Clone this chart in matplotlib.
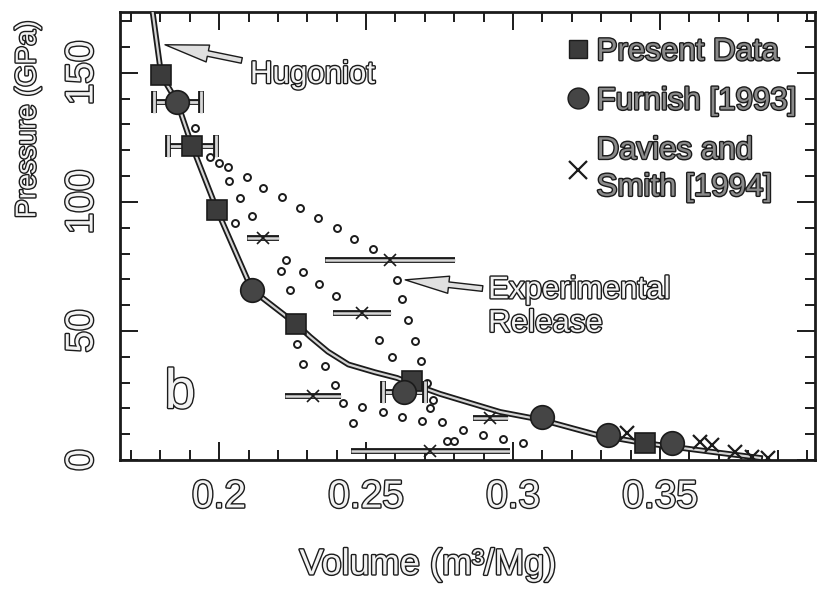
import matplotlib
matplotlib.use("Agg")
import matplotlib.pyplot as plt
import matplotlib.patheffects as pe
from matplotlib.lines import Line2D
from matplotlib.ticker import MultipleLocator

# Hugoniot curve (volume m^3/Mg, pressure GPa)
hug_v = [0.1771, 0.1803, 0.1857, 0.1908, 0.1993, 0.2112, 0.2262, 0.2310, 0.2370, 0.2440,
         0.2530, 0.2605, 0.2656, 0.2752, 0.2956, 0.3099, 0.3286, 0.3422, 0.3524, 0.3680, 0.3840]
hug_p = [176.0, 149.2, 138.8, 121.7, 96.9, 65.9, 52.7, 47.7, 42.0, 37.0,
         34.0, 31.8, 29.5, 25.6, 18.6, 15.5, 9.7, 7.0, 5.4, 3.1, 0.8]

# present data (squares)
pres_v = [0.1803, 0.1908, 0.1993, 0.2262, 0.2656, 0.3449]
pres_p = [149.2, 121.7, 96.9, 52.7, 30.6, 6.6]
pres_verr = [0.0, 0.0082, 0.0, 0.0, 0.0, 0.0]

# Furnish [1993] (circles)
furn_v = [0.1857, 0.2112, 0.2630, 0.3099, 0.3323, 0.3541]
furn_p = [138.8, 65.9, 26.4, 16.7, 9.7, 6.6]
furn_verr = [0.0080, 0.0, 0.0071, 0.0, 0.0, 0.0]

# Davies and Smith [1994] (crosses)
ds_v = [0.3388, 0.3636, 0.3677, 0.3755, 0.3813, 0.3867]
ds_p = [10.5, 7.0, 5.8, 3.1, 1.2, 0.8]

# release states with volume uncertainty
rs_v = [0.2150, 0.2582, 0.2486, 0.2320, 0.2718, 0.2922]
rs_p = [86.0, 77.5, 57.0, 24.8, 3.5, 16.3]
rs_verr = [0.0054, 0.0221, 0.0099, 0.0095, 0.0270, 0.0060]

# experimental release paths
rel1_v = [0.1918, 0.1969, 0.2031, 0.2095, 0.2150, 0.2214, 0.2276, 0.2337, 0.2401, 0.2459,
          0.2524, 0.2605, 0.2622, 0.2643, 0.2667, 0.2687, 0.2707, 0.2728, 0.2718, 0.2759, 0.2776]
rel1_p = [128.7, 117.4, 113.6, 109.7, 105.4, 101.9, 97.7, 93.8, 89.9, 85.7,
          81.8, 69.8, 62.4, 54.3, 46.1, 38.4, 29.8, 23.3, 20.2, 14.7, 7.4]
rel2_v = [0.2000, 0.2034, 0.2071, 0.2112, 0.2228, 0.2286, 0.2340, 0.2398, 0.2544, 0.2588, 0.2799]
rel2_p = [115.1, 108.1, 101.6, 94.6, 77.5, 72.9, 68.2, 63.6, 46.5, 39.9, 7.4]
rel3_v = [0.2054, 0.2211, 0.2241, 0.2361, 0.2486, 0.2558, 0.2622, 0.2690,
          0.2830, 0.2898, 0.2966, 0.3034]
rel3_p = [91.9, 73.3, 65.9, 36.4, 20.5, 18.6, 16.7, 15.1, 11.6, 9.7, 8.1, 6.6]
rel4_v = [0.2265, 0.2286, 0.2395, 0.2422, 0.2456]
rel4_p = [45.0, 37.2, 29.1, 22.1, 14.3]

x_ticks = [0.2, 0.25, 0.3, 0.35]
x_labels = ["0.2", "0.25", "0.3", "0.35"]
y_ticks = [0, 50, 100, 150]

ink = "#1b1b1b"
hollow = [pe.Stroke(linewidth=4.2, foreground=ink), pe.Normal()]
hollow_txt = [pe.withStroke(linewidth=2.0, foreground=ink)]
label_font = ["Liberation Sans Narrow", "Liberation Sans", "DejaVu Sans"]

fig = plt.figure(figsize=(8.21, 5.93), dpi=100)
ax = fig.add_axes([0.1462, 0.2243, 0.8465, 0.7555])

# Hugoniot
ax.plot(hug_v, hug_p, color="#d4d4d4", lw=1.6, path_effects=hollow, zorder=3)

# release paths
for rv, rp in [(rel1_v, rel1_p), (rel2_v, rel2_p), (rel3_v, rel3_p), (rel4_v, rel4_p)]:
    ax.plot(rv, rp, ls="none", marker="o", ms=5.0, mfc="white", mec=ink, mew=1.4, zorder=2)

# release states
rs_lo = [v - e for v, e in zip(rs_v, rs_verr)]
rs_hi = [v + e for v, e in zip(rs_v, rs_verr)]
ax.hlines(rs_p, rs_lo, rs_hi, color="#d8d8d8", lw=1.8, path_effects=hollow, zorder=3)
ax.plot(rs_v, rs_p, ls="none", marker="x", ms=8, mec=ink, mew=1.2, zorder=4)

# error bars for the shock states
def bars(v, p, err, size):
    vv = [a for a, e in zip(v, err) if e > 0]
    pp = [b for b, e in zip(p, err) if e > 0]
    ee = [e for e in err if e > 0]
    eb = ax.errorbar(vv, pp, xerr=ee, fmt="none", ecolor="#d8d8d8", elinewidth=2.0,
                     capsize=size, capthick=2.0, zorder=4)
    for art in list(eb.lines[1]) + list(eb.lines[2]):
        art.set_path_effects(hollow)

bars(pres_v, pres_p, pres_verr, 8)
bars(furn_v, furn_p, furn_verr, 8)

ax.plot(pres_v, pres_p, ls="none", marker="s", ms=15, mfc="#3b3b3b", mec=ink, mew=1.2, zorder=5)
ax.plot(furn_v, furn_p, ls="none", marker="o", ms=17, mfc="#454545", mec=ink, mew=1.2, zorder=5)
ax.plot(ds_v, ds_p, ls="none", marker="x", ms=10, mec=ink, mew=1.6, zorder=6)

# annotations
arrow = "simple,head_length=1.4,head_width=0.55,tail_width=0.18"
ax.annotate("Hugoniot", xy=(0.1816, 160.9), xytext=(0.2105, 149.2),
            fontsize=22.5, family="Liberation Sans", color="#f2f2f2", va="center", ha="left",
            path_effects=hollow_txt,
            arrowprops=dict(arrowstyle=arrow, fc="#e0e0e0", ec=ink, lw=1.0,
                            shrinkA=4, shrinkB=0))
ax.annotate("Experimental\nRelease", xy=(0.2633, 69.8), xytext=(0.2915, 59.3),
            fontsize=22.5, family="Liberation Sans", color="#f2f2f2", va="center", ha="left",
            linespacing=1.15, path_effects=hollow_txt,
            arrowprops=dict(arrowstyle=arrow, fc="#e0e0e0", ec=ink, lw=1.0,
                            shrinkA=2, shrinkB=0, relpos=(0.0, 0.78)))
ax.text(0.1867, 25.6, "b", fontsize=40, family=label_font, color="#f2f2f2",
        ha="center", va="center", path_effects=hollow_txt)

# legend
handles = [
    Line2D([], [], ls="none", marker="s", ms=13, mfc="#3b3b3b", mec=ink),
    Line2D([], [], ls="none", marker="o", ms=15, mfc="#454545", mec=ink),
    Line2D([], [], ls="none", marker="x", ms=13, mec=ink, mew=1.6),
]
leg = ax.legend(handles, ["Present Data", "Furnish [1993]", "Davies and\nSmith [1994]"],
                loc="upper left", bbox_to_anchor=(0.625, 0.972), frameon=False,
                handlelength=0.7, handletextpad=0.25, labelspacing=0.62, borderaxespad=0,
                prop={"family": "Liberation Sans", "size": 22.5})
for t in leg.get_texts():
    t.set_color("#8a8a8a")
    t.set_linespacing(1.3)
    t.set_path_effects(hollow_txt)

# axes
ax.set_xlim(0.1663, 0.4027)
ax.set_ylim(0, 173.6)
ax.set_xticks(x_ticks)
ax.set_xticklabels(x_labels)
ax.set_yticks(y_ticks)
ax.xaxis.set_minor_locator(MultipleLocator(0.01))
ax.yaxis.set_minor_locator(MultipleLocator(10))
ax.tick_params(which="both", direction="in", top=True, right=True, width=1.4, color=ink)
ax.tick_params(which="major", length=13, pad=14)
ax.tick_params(which="minor", length=7)
for s in ax.spines.values():
    s.set_linewidth(2.0)
    s.set_color(ink)

for lab in ax.get_xticklabels() + ax.get_yticklabels():
    lab.set_fontfamily(label_font)
    lab.set_fontsize(28)
    lab.set_color("#f2f2f2")
    lab.set_path_effects(hollow_txt)
for lab in ax.get_yticklabels():
    lab.set_rotation(90)
    lab.set_va("center")

ax.set_xlabel("Volume (m³/Mg)", fontsize=26, family=label_font, color="#f2f2f2",
              path_effects=hollow_txt, va="center")
ax.set_ylabel("Pressure (GPa)", fontsize=20.5, family=label_font, color="#f2f2f2",
              path_effects=hollow_txt, va="center")
ax.xaxis.set_label_coords(0.443, -0.234)
ax.yaxis.set_label_coords(-0.132, 0.76)

fig.savefig("out.png", dpi=100)
